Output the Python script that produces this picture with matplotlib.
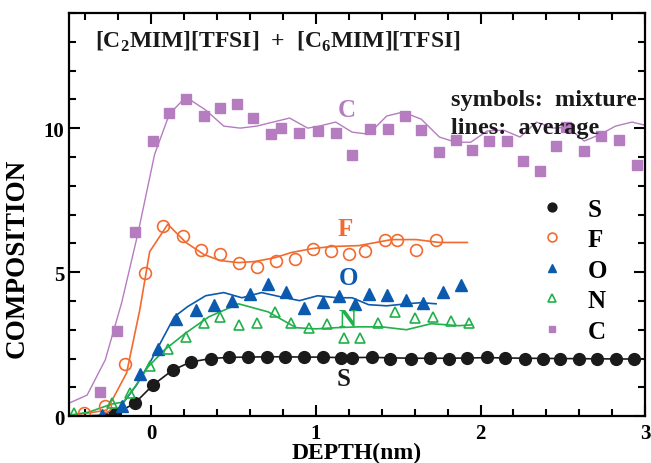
import matplotlib
matplotlib.use("Agg")
import matplotlib.pyplot as plt
from matplotlib.ticker import MultipleLocator

plt.rcParams['font.family'] = ['Liberation Serif', 'DejaVu Serif']
plt.rcParams['font.weight'] = 'bold'
plt.rcParams['axes.labelweight'] = 'bold'
plt.rcParams['mathtext.fontset'] = 'custom'
plt.rcParams['mathtext.rm'] = 'Liberation Serif:bold'
plt.rcParams['mathtext.bf'] = 'Liberation Serif:bold'

# symbols: mixture
s_x = [-0.22, -0.10, 0.01, 0.13, 0.24, 0.36, 0.47, 0.59, 0.70, 0.81, 0.93, 1.04, 1.15, 1.22,
       1.34, 1.45, 1.58, 1.69, 1.81, 1.92, 2.04, 2.15, 2.27, 2.38, 2.48, 2.60, 2.71, 2.82, 2.93]
s_y = [0.07, 0.45, 1.08, 1.60, 1.88, 2.00, 2.04, 2.05, 2.07, 2.07, 2.06, 2.06, 2.03, 2.02,
       2.05, 2.00, 2.00, 2.01, 2.00, 2.03, 2.05, 2.03, 2.00, 2.00, 2.00, 2.00, 1.99, 1.99, 1.98]

f_x = [-0.41, -0.28, -0.16, -0.04, 0.07, 0.19, 0.30, 0.42, 0.53, 0.64, 0.76, 0.87, 0.98, 1.09,
       1.20, 1.30, 1.42, 1.49, 1.61, 1.73]
f_y = [0.10, 0.35, 1.81, 4.98, 6.59, 6.27, 5.78, 5.64, 5.33, 5.19, 5.40, 5.47, 5.82, 5.75,
       5.64, 5.75, 6.13, 6.13, 5.78, 6.10]

o_x = [-0.30, -0.18, -0.07, 0.04, 0.15, 0.27, 0.38, 0.49, 0.60, 0.71, 0.82, 0.93, 1.04, 1.14,
       1.24, 1.32, 1.43, 1.55, 1.65, 1.77, 1.88]
o_y = [0.03, 0.35, 1.46, 2.33, 3.38, 3.69, 3.87, 4.01, 4.25, 4.60, 4.32, 3.76, 3.97, 4.18,
       3.90, 4.25, 4.22, 4.04, 3.94, 4.32, 4.56]

n_x = [-0.47, -0.24, -0.13, -0.01, 0.10, 0.21, 0.32, 0.42, 0.53, 0.64, 0.75, 0.85, 0.96, 1.07,
       1.17, 1.27, 1.38, 1.48, 1.60, 1.71, 1.82, 1.93]
n_y = [0.10, 0.45, 0.80, 1.74, 2.33, 2.75, 3.24, 3.45, 3.17, 3.24, 3.62, 3.24, 3.07, 3.21,
       2.72, 2.72, 3.24, 3.62, 3.41, 3.45, 3.31, 3.24]

c_x = [-0.31, -0.21, -0.10, 0.01, 0.11, 0.21, 0.32, 0.42, 0.52, 0.62, 0.73, 0.79, 0.90, 1.01,
       1.12, 1.22, 1.33, 1.44, 1.54, 1.64, 1.75, 1.85, 1.95, 2.05, 2.16, 2.26, 2.36, 2.46,
       2.52, 2.63, 2.73, 2.84, 2.95]
c_y = [0.84, 2.96, 6.41, 9.55, 10.52, 11.01, 10.42, 10.70, 10.84, 10.35, 9.79, 10.00, 9.83, 9.90,
       9.83, 9.06, 9.97, 9.97, 10.42, 9.93, 9.16, 9.58, 9.23, 9.55, 9.55, 8.85, 8.50, 9.37,
       10.03, 9.20, 9.72, 9.58, 8.71]

# lines: average
sl_x = [-0.5, -0.33, -0.22, -0.10, 0.01, 0.13, 0.24, 0.36, 0.47, 0.59, 0.70, 0.81, 0.93, 1.04,
        1.15, 1.34, 1.58, 1.81, 2.04, 2.27, 2.48, 2.71, 3.0]
sl_y = [0.0, 0.02, 0.07, 0.45, 1.08, 1.60, 1.88, 2.00, 2.04, 2.05, 2.06, 2.06, 2.05, 2.05,
        2.03, 2.04, 2.01, 2.01, 2.03, 2.01, 2.00, 1.99, 1.98]

fl_x = [-0.50, -0.39, -0.27, -0.15, -0.07, -0.01, 0.10, 0.21, 0.32, 0.42, 0.53, 0.63, 0.75,
        0.85, 0.98, 1.10, 1.26, 1.46, 1.61, 1.75, 1.92]
fl_y = [0.03, 0.10, 0.21, 1.50, 3.69, 5.71, 6.66, 6.03, 5.61, 5.40, 5.33, 5.37, 5.50,
        5.68, 5.82, 5.89, 5.92, 6.13, 6.13, 6.03, 6.03]

ol_x = [-0.50, -0.30, -0.19, -0.09, 0.00, 0.14, 0.22, 0.33, 0.44, 0.55, 0.67, 0.78, 0.90,
        1.01, 1.13, 1.22, 1.32, 1.43, 1.55, 1.64, 1.73]
ol_y = [0.0, 0.02, 0.31, 1.08, 1.95, 3.45, 3.80, 4.18, 4.29, 4.11, 4.29, 4.15, 4.01,
        4.18, 4.11, 4.11, 3.87, 3.83, 3.90, 3.94, 3.90]

nl_x = [-0.50, -0.38, -0.24, -0.17, -0.10, -0.02, 0.08, 0.21, 0.35, 0.53, 0.71, 0.88, 1.00,
        1.12, 1.26, 1.40, 1.55, 1.70, 1.87, 1.95]
nl_y = [0.03, 0.14, 0.42, 0.49, 1.01, 1.71, 2.30, 2.89, 3.45, 3.90, 3.62, 3.07, 3.03,
        3.07, 3.10, 3.10, 3.00, 3.21, 3.14, 3.17]

cl_x = [-0.50, -0.39, -0.28, -0.18, -0.08, 0.02, 0.11, 0.21, 0.33, 0.44, 0.54, 0.64, 0.74,
        0.84, 0.95, 1.02, 1.12, 1.22, 1.32, 1.43, 1.53, 1.64, 1.75, 1.85, 1.94, 2.04, 2.14,
        2.24, 2.34, 2.44, 2.53, 2.63, 2.73, 2.82, 2.92, 3.00]
cl_y = [0.45, 0.73, 1.95, 3.94, 6.38, 9.09, 10.49, 11.08, 10.63, 10.07, 10.00, 10.07, 10.21,
        10.35, 10.00, 10.07, 10.21, 9.86, 9.79, 10.42, 10.56, 10.31, 9.69, 9.51, 9.51, 9.90, 9.93,
        9.69, 10.21, 10.00, 10.03, 9.55, 9.79, 10.07, 10.21, 10.10]

# curve labels (element, x, y)
lab_names = ['C', 'F', 'O', 'N', 'S']
lab_x = [1.19, 1.18, 1.20, 1.19, 1.17]
lab_y = [10.66, 6.52, 4.81, 3.34, 1.32]

black = '#1a1a1a'
orange = '#f26a2e'
blue = '#0b5aad'
green = '#22b04b'
purple = '#b67cc0'
lab_colors = [purple, orange, blue, green, black]

fig = plt.figure(figsize=(6.51, 4.64), dpi=100)
ax = fig.add_axes([0.106, 0.101, 0.885, 0.869])

ax.plot(cl_x, cl_y, color=purple, lw=1.0)
ax.plot(fl_x, fl_y, color=orange, lw=1.2)
ax.plot(ol_x, ol_y, color=blue, lw=1.2)
ax.plot(nl_x, nl_y, color=green, lw=1.2)
ax.plot(sl_x, sl_y, color=black, lw=1.2)

hs = ax.plot(s_x, s_y, 'o', color=black, ms=8.5, label='S')[0]
hf = ax.plot(f_x, f_y, 'o', mfc='none', mec=orange, mew=1.2, ms=8.5, label='F')[0]
ho = ax.plot(o_x, o_y, '^', color=blue, ms=8, label='O')[0]
hn = ax.plot(n_x, n_y, '^', mfc='none', mec=green, mew=1.2, ms=7, label='N')[0]
hc = ax.plot(c_x, c_y, 's', color=purple, ms=6.5, label='C')[0]

ax.legend(handles=[hs, hf, ho, hn, hc], loc='upper left', bbox_to_anchor=(0.80, 0.567),
          frameon=False, prop={'size': 18, 'weight': 'bold'}, handletextpad=0.9,
          labelspacing=0.3, markerscale=0.75, handlelength=1.0, borderaxespad=0)

for name, x, y, col in zip(lab_names, lab_x, lab_y, lab_colors):
    ax.text(x, y, name, color=col, fontsize=18, ha='center', va='center')

ax.text(0.045, 0.93, r'[C$_\mathbf{2}$MIM][TFSI]  +  [C$_\mathbf{6}$MIM][TFSI]', transform=ax.transAxes,
        fontsize=17, ha='left', va='center', color=black)
ax.text(0.663, 0.785, 'symbols:  mixture', transform=ax.transAxes, fontsize=17.5,
        ha='left', va='center', color=black)
ax.text(0.663, 0.715, 'lines:  average', transform=ax.transAxes, fontsize=17.5,
        ha='left', va='center', color=black)

ax.set_xlim(-0.5, 3)
ax.set_ylim(0, 14)
ax.xaxis.set_major_locator(MultipleLocator(1))
ax.xaxis.set_minor_locator(MultipleLocator(0.2))
ax.yaxis.set_major_locator(MultipleLocator(5))
ax.yaxis.set_minor_locator(MultipleLocator(1))
ax.tick_params(which='both', direction='in', top=True, right=True, width=1.5, labelsize=15)
ax.tick_params(which='major', length=8)
ax.tick_params(which='minor', length=5)
ax.tick_params(axis='x', pad=5)
for sp in ax.spines.values():
    sp.set_linewidth(1.6)

ax.set_xlabel('DEPTH(nm)', fontsize=17, labelpad=-1)
ax.set_ylabel('COMPOSITION', fontsize=19.5)
ax.yaxis.set_label_coords(-0.068, 0.395)

fig.savefig('out.png', dpi=100)
